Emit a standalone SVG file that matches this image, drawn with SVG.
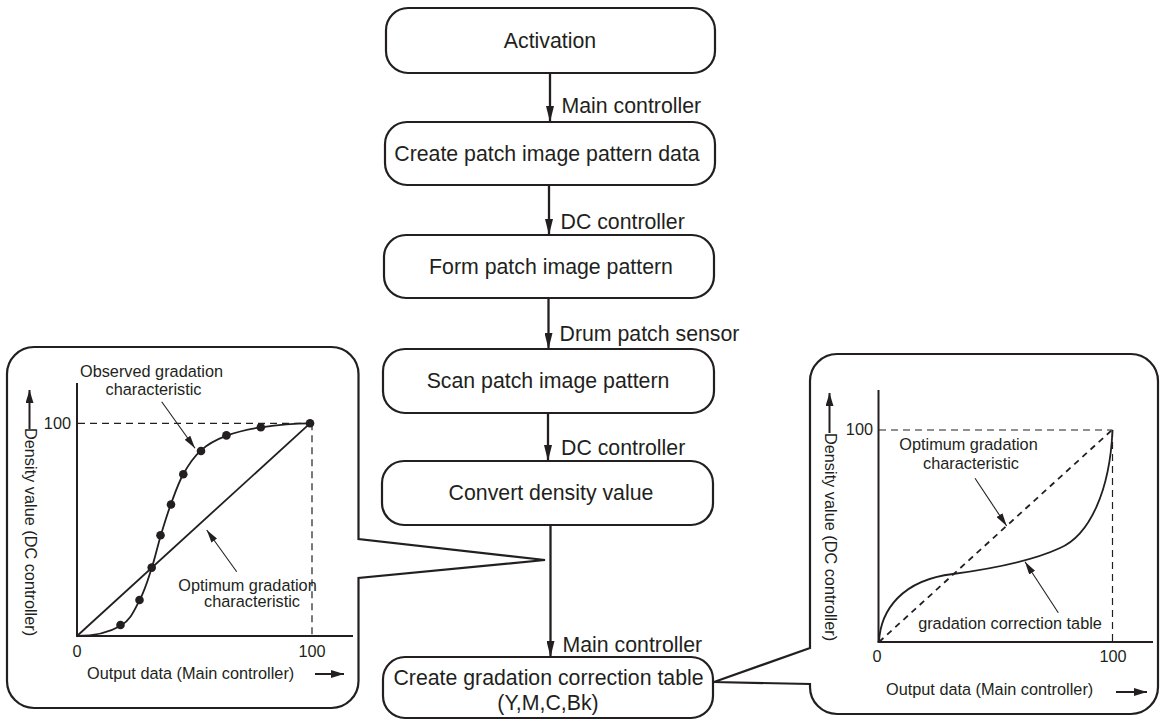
<svg xmlns="http://www.w3.org/2000/svg" width="1160" height="722" viewBox="0 0 1160 722">
  <style>
    .box { fill: #fff; stroke: #231f20; stroke-width: 2.2; }
    .lbl { font-family: "Liberation Sans", Arial, sans-serif; font-size: 21.3px; fill: #231f20; }
    .mid { text-anchor: middle; }
    .g { font-family: "Liberation Sans", Arial, sans-serif; font-size: 16.3px; fill: #231f20; }
    .flow { stroke: #231f20; stroke-width: 2.3; fill: none; }
    .axis { stroke: #231f20; stroke-width: 2; fill: none; }
    .dash { stroke: #231f20; stroke-width: 1.2; stroke-dasharray: 7 5; fill: none; }
    .curve { stroke: #231f20; stroke-width: 1.8; fill: none; }
    .ptr { stroke: #231f20; stroke-width: 1.1; fill: none; }
    .dot { fill: #231f20; }
  </style>
  <defs>
    <marker id="flowHead" viewBox="0 0 16 8" refX="16" refY="4" markerWidth="16" markerHeight="8" markerUnits="userSpaceOnUse" orient="auto">
      <path d="M0,0 L16,4 L0,8 Z" fill="#231f20"/>
    </marker>
    <marker id="ptrHead" viewBox="0 0 13 7" refX="13" refY="3.5" markerWidth="13" markerHeight="7" markerUnits="userSpaceOnUse" orient="auto">
      <path d="M0,0 L13,3.5 L0,7 Z" fill="#231f20"/>
    </marker>
    <marker id="axisHead" viewBox="0 0 13 8" refX="13" refY="4" markerWidth="13" markerHeight="8" markerUnits="userSpaceOnUse" orient="auto">
      <path d="M0,0 L13,4 L0,8 Z" fill="#231f20"/>
    </marker>
  </defs>

  <!-- flow connectors -->
  <g id="connectors">
    <line class="flow" x1="550" y1="73" x2="550" y2="122" marker-end="url(#flowHead)"/>
    <line class="flow" x1="549" y1="185" x2="549" y2="235" marker-end="url(#flowHead)"/>
    <line class="flow" x1="548.5" y1="298" x2="548.5" y2="349" marker-end="url(#flowHead)"/>
    <line class="flow" x1="548" y1="413" x2="548" y2="461" marker-end="url(#flowHead)"/>
    <line class="flow" x1="550.5" y1="525" x2="550.5" y2="657" marker-end="url(#flowHead)"/>
    <text class="lbl" x="561.5" y="113">Main controller</text>
    <text class="lbl" x="560.5" y="229">DC controller</text>
    <text class="lbl" x="559.5" y="341">Drum patch sensor</text>
    <text class="lbl" x="561" y="455">DC controller</text>
    <text class="lbl" x="562.5" y="652">Main controller</text>
  </g>

  <!-- process steps -->
  <g id="activation">
    <rect class="box" x="386" y="8" width="329" height="65" rx="22"/>
    <text class="lbl mid" x="550" y="48">Activation</text>
  </g>
  <g id="create-pattern-data">
    <rect class="box" x="385" y="122" width="330" height="63" rx="22"/>
    <text class="lbl mid" x="547" y="161">Create patch image pattern data</text>
  </g>
  <g id="form-pattern">
    <rect class="box" x="384" y="235" width="330" height="63" rx="22"/>
    <text class="lbl mid" x="551" y="274">Form patch image pattern</text>
  </g>
  <g id="scan-pattern">
    <rect class="box" x="383" y="349" width="331" height="64" rx="22"/>
    <text class="lbl mid" x="548" y="388">Scan patch image pattern</text>
  </g>
  <g id="convert-density">
    <rect class="box" x="382" y="461" width="331" height="64" rx="22"/>
    <text class="lbl mid" x="551" y="500">Convert density value</text>
  </g>
  <g id="create-table">
    <rect class="box" x="383" y="657" width="330" height="61" rx="22"/>
    <text class="lbl mid" x="548.5" y="685">Create gradation correction table</text>
    <text class="lbl mid" x="548" y="710">(Y,M,C,Bk)</text>
  </g>

  <!-- callout: observed gradation -->
  <g id="observed-graph">
    <path class="box" d="M34,347 H331.5 A27,27 0 0 1 358.5,374 V539 L545,560 L358.5,578 V681 A27,27 0 0 1 331.5,708 H34 A27,27 0 0 1 7,681 V374 A27,27 0 0 1 34,347 Z"/>
    <line class="axis" x1="77" y1="383" x2="77" y2="636"/>
    <line class="axis" x1="76" y1="636" x2="353" y2="636"/>
    <line class="dash" x1="78" y1="423.3" x2="310" y2="423.3"/>
    <line class="dash" x1="312" y1="423.3" x2="312" y2="636"/>
    <line class="curve" x1="77" y1="636" x2="310" y2="423.3"/>
    <path class="curve" d="M77,636 C94,636 110.2,631.8 120.7,625.7 C131.2,619.6 134.8,608.9 140,599.3 C145.2,589.7 148.3,578.6 151.7,568 C155.2,557.4 157.5,546.3 160.7,535.7 C163.9,525.2 166.9,515 170.7,504.7 C174.5,494.4 178.3,483.1 183.3,474 C188.4,464.9 193.8,456.7 201,450.3 C208.2,443.9 216.7,439.5 226.7,435.7 C236.7,431.9 247.1,429.4 261,427.3 C274.9,425.2 293,423.3 310,423.3"/>
    <g class="dot">
      <circle cx="120.5" cy="625" r="4.3"/>
      <circle cx="139.5" cy="600" r="4.3"/>
      <circle cx="151.7" cy="567.6" r="4.3"/>
      <circle cx="160.5" cy="535.3" r="4.3"/>
      <circle cx="171" cy="504.5" r="4.3"/>
      <circle cx="183.3" cy="474.2" r="4.3"/>
      <circle cx="201" cy="451" r="4.3"/>
      <circle cx="226.4" cy="435.4" r="4.3"/>
      <circle cx="260.8" cy="427.3" r="4.3"/>
      <circle cx="310" cy="423.3" r="4.3"/>
    </g>
    <text class="g mid" x="151.5" y="377">Observed gradation</text>
    <text class="g mid" x="153.5" y="395">characteristic</text>
    <line class="ptr" x1="161.7" y1="401.7" x2="195" y2="448.3" marker-end="url(#ptrHead)"/>
    <text class="g mid" x="247.5" y="591">Optimum gradation</text>
    <text class="g mid" x="252" y="607">characteristic</text>
    <line class="ptr" x1="236.7" y1="571.7" x2="206.7" y2="530" marker-end="url(#ptrHead)"/>
    <text class="g" x="71" y="429" text-anchor="end">100</text>
    <text class="g mid" x="77" y="657">0</text>
    <text class="g mid" x="312" y="657">100</text>
    <text class="g" x="87" y="679">Output data (Main controller)</text>
    <line class="axis" x1="315" y1="674" x2="344" y2="674" marker-end="url(#axisHead)"/>
    <text class="g" transform="translate(24.5,428) rotate(90)">Density value (DC controller)</text>
    <line class="axis" stroke-width="2.8" x1="29.5" y1="429" x2="29.5" y2="390" marker-end="url(#axisHead)"/>
  </g>

  <!-- callout: gradation correction table -->
  <g id="correction-graph">
    <path class="box" d="M837,354 H1131 A27,27 0 0 1 1158,381 V687 A27,27 0 0 1 1131,714 H837 A27,27 0 0 1 810,687 V684 L714,682 L810,648 V381 A27,27 0 0 1 837,354 Z"/>
    <line class="axis" x1="878.5" y1="390" x2="878.5" y2="642"/>
    <line class="axis" x1="877.5" y1="642" x2="1153" y2="642"/>
    <line class="dash" x1="879" y1="430" x2="1112.5" y2="430"/>
    <line class="dash" x1="1112.5" y1="430" x2="1112.5" y2="642"/>
    <line class="curve" stroke-width="2" stroke-dasharray="6 5" x1="879" y1="642" x2="1112" y2="430"/>
    <path class="curve" stroke-width="2" d="M879,642 C880.5,610 902,580 953,574 C990,569 1030,562 1060,548 C1090,535 1110,490 1112.5,430"/>
    <text class="g mid" x="968.5" y="450">Optimum gradation</text>
    <text class="g mid" x="971" y="469">characteristic</text>
    <line class="ptr" x1="975" y1="478.3" x2="1006.7" y2="526" marker-end="url(#ptrHead)"/>
    <text class="g mid" x="1010" y="628.5">gradation correction table</text>
    <line class="ptr" x1="1058.3" y1="612.7" x2="1025" y2="561.7" marker-end="url(#ptrHead)"/>
    <text class="g" x="873" y="435" text-anchor="end">100</text>
    <text class="g mid" x="877" y="662">0</text>
    <text class="g mid" x="1113" y="662">100</text>
    <text class="g" x="886" y="695">Output data (Main controller)</text>
    <line class="axis" x1="1116" y1="692" x2="1147" y2="692" marker-end="url(#axisHead)"/>
    <text class="g" transform="translate(824.5,433) rotate(90)">Density value (DC controller)</text>
    <line class="axis" stroke-width="2.8" x1="829.5" y1="433" x2="829.5" y2="393" marker-end="url(#axisHead)"/>
  </g>
</svg>
